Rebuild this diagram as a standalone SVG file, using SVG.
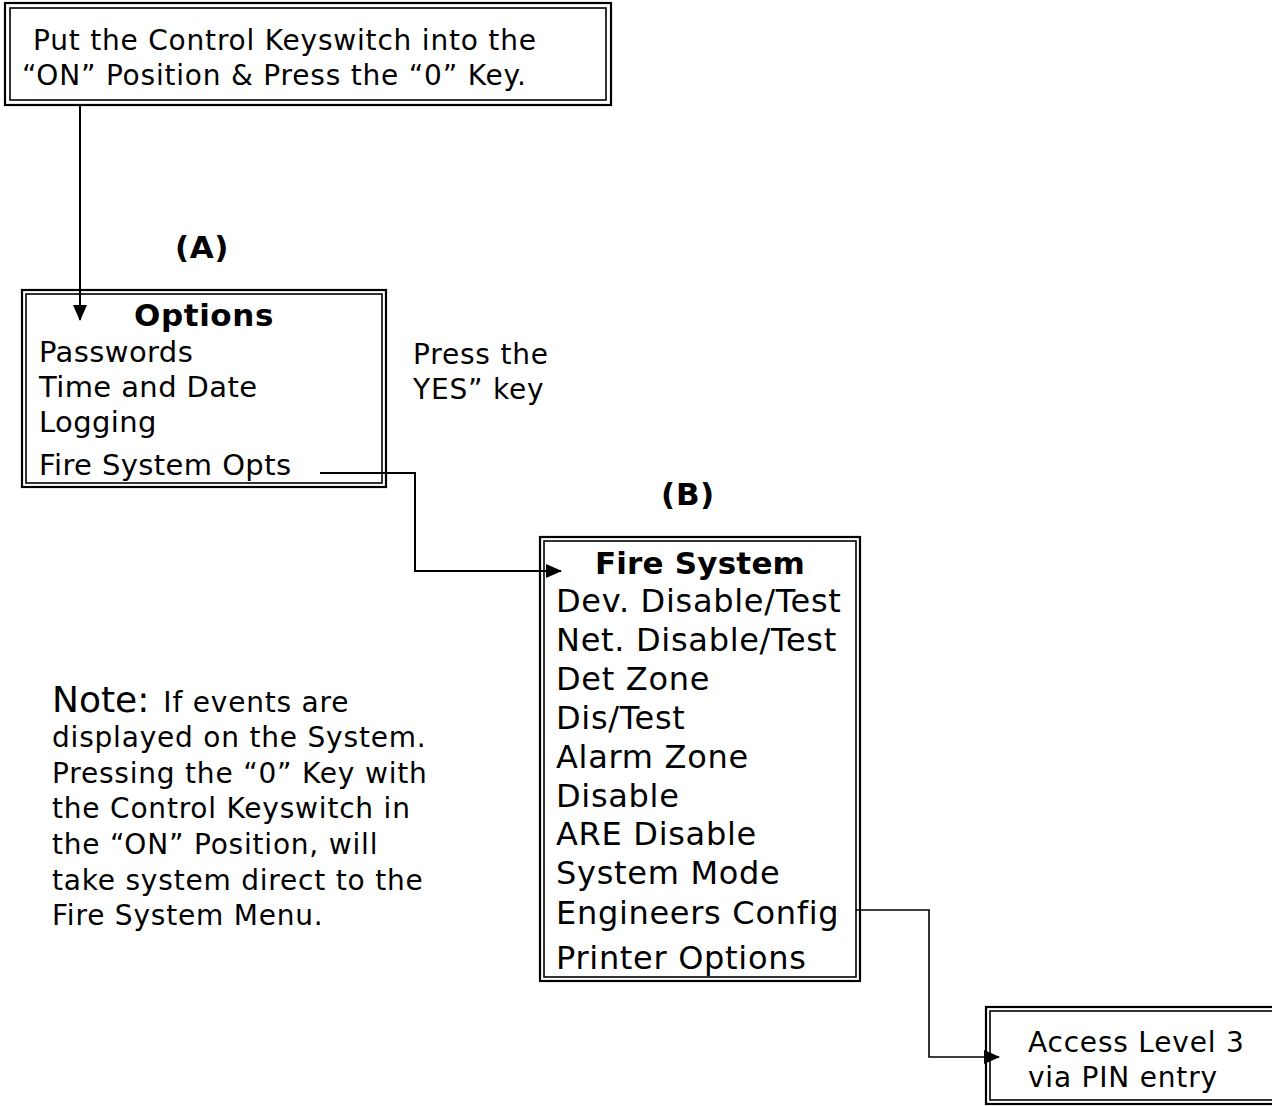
<svg xmlns="http://www.w3.org/2000/svg" width="1272" height="1106" viewBox="0 0 1272 1106">
<style>
.o{fill:none;stroke:#000;stroke-width:2.2}
.i{fill:none;stroke:#000;stroke-width:1.6}
text{font-family:"DejaVu Sans","Verdana",sans-serif;fill:#000}
.t{font-size:28px;letter-spacing:0.8px}
.b{font-size:31px;font-weight:bold;letter-spacing:0.6px}
.m{font-size:29px;letter-spacing:0.4px}
.f{font-size:32px;letter-spacing:0.7px}
.c{fill:none;stroke:#000;stroke-width:2}
</style>
<defs>
<marker id="ah" viewBox="0 0 16 14" refX="15" refY="7" markerWidth="16" markerHeight="14" markerUnits="userSpaceOnUse" orient="auto"><path d="M0,0 L16,7 L0,14 z" fill="#000"/></marker>
</defs>
<rect width="1272" height="1106" fill="#fff"/>
<g id="start">
<rect class="o" x="5" y="3" width="606" height="102"/>
<rect class="i" x="10" y="8" width="596" height="92"/>
<text class="t" x="33" y="50">Put the Control Keyswitch into the</text>
<text class="t" x="22" y="85">“ON” Position &amp; Press the “0” Key.</text>
</g>
<g id="labelA"><text class="b" x="202" y="258" text-anchor="middle">(A)</text></g>
<g id="options">
<rect class="o" x="22" y="290" width="364" height="197"/>
<rect class="i" x="26" y="294" width="356" height="189"/>
<text class="b" x="204" y="326" text-anchor="middle">Options</text>
<text class="m" x="39" y="362">Passwords</text>
<text class="m" x="39" y="397">Time and Date</text>
<text class="m" x="39" y="432">Logging</text>
<text class="m" x="39" y="475">Fire System Opts</text>
</g>
<g id="pressYes">
<text class="t" x="413" y="364">Press the</text>
<text class="t" x="413" y="399">YES” key</text>
</g>
<g id="labelB"><text class="b" x="688" y="505" text-anchor="middle">(B)</text></g>
<g id="fireSystem">
<rect class="o" x="540" y="537" width="320" height="444"/>
<rect class="i" x="544" y="541" width="312" height="436"/>
<text class="b" x="700" y="574" text-anchor="middle" style="letter-spacing:0.2px">Fire System</text>
<text class="f" x="556" y="612">Dev. Disable/Test</text>
<text class="f" x="556" y="651">Net. Disable/Test</text>
<text class="f" x="556" y="690">Det Zone</text>
<text class="f" x="556" y="729">Dis/Test</text>
<text class="f" x="556" y="768">Alarm Zone</text>
<text class="f" x="556" y="807">Disable</text>
<text class="f" x="556" y="845">ARE Disable</text>
<text class="f" x="556" y="884">System Mode</text>
<text class="f" x="556" y="924">Engineers Config</text>
<text class="f" x="556" y="969">Printer Options</text>
</g>
<g id="note">
<text x="52" y="712"><tspan style="font-size:36px">Note:</tspan><tspan class="t" dx="14">If events are</tspan></text>
<text class="t" x="52" y="747">displayed on the System.</text>
<text class="t" x="52" y="783">Pressing the “0” Key with</text>
<text class="t" x="52" y="818">the Control Keyswitch in</text>
<text class="t" x="52" y="854">the “ON” Position, will</text>
<text class="t" x="52" y="890">take system direct to the</text>
<text class="t" x="52" y="925">Fire System Menu.</text>
</g>
<g id="access">
<rect class="o" x="986" y="1007" width="300" height="97"/>
<rect class="i" x="990" y="1011" width="300" height="89"/>
<text class="t" x="1028" y="1052">Access Level 3</text>
<text class="t" x="1028" y="1087">via PIN entry</text>
</g>
<g id="connectors">
<path class="c" d="M80,105 V320" marker-end="url(#ah)"/>
<path class="c" d="M320,473 H415 V571 H561" marker-end="url(#ah)"/>
<path class="c" d="M856,910 H929 V1057 H999" marker-end="url(#ah)" style="stroke-width:1.6"/>
</g>
</svg>
